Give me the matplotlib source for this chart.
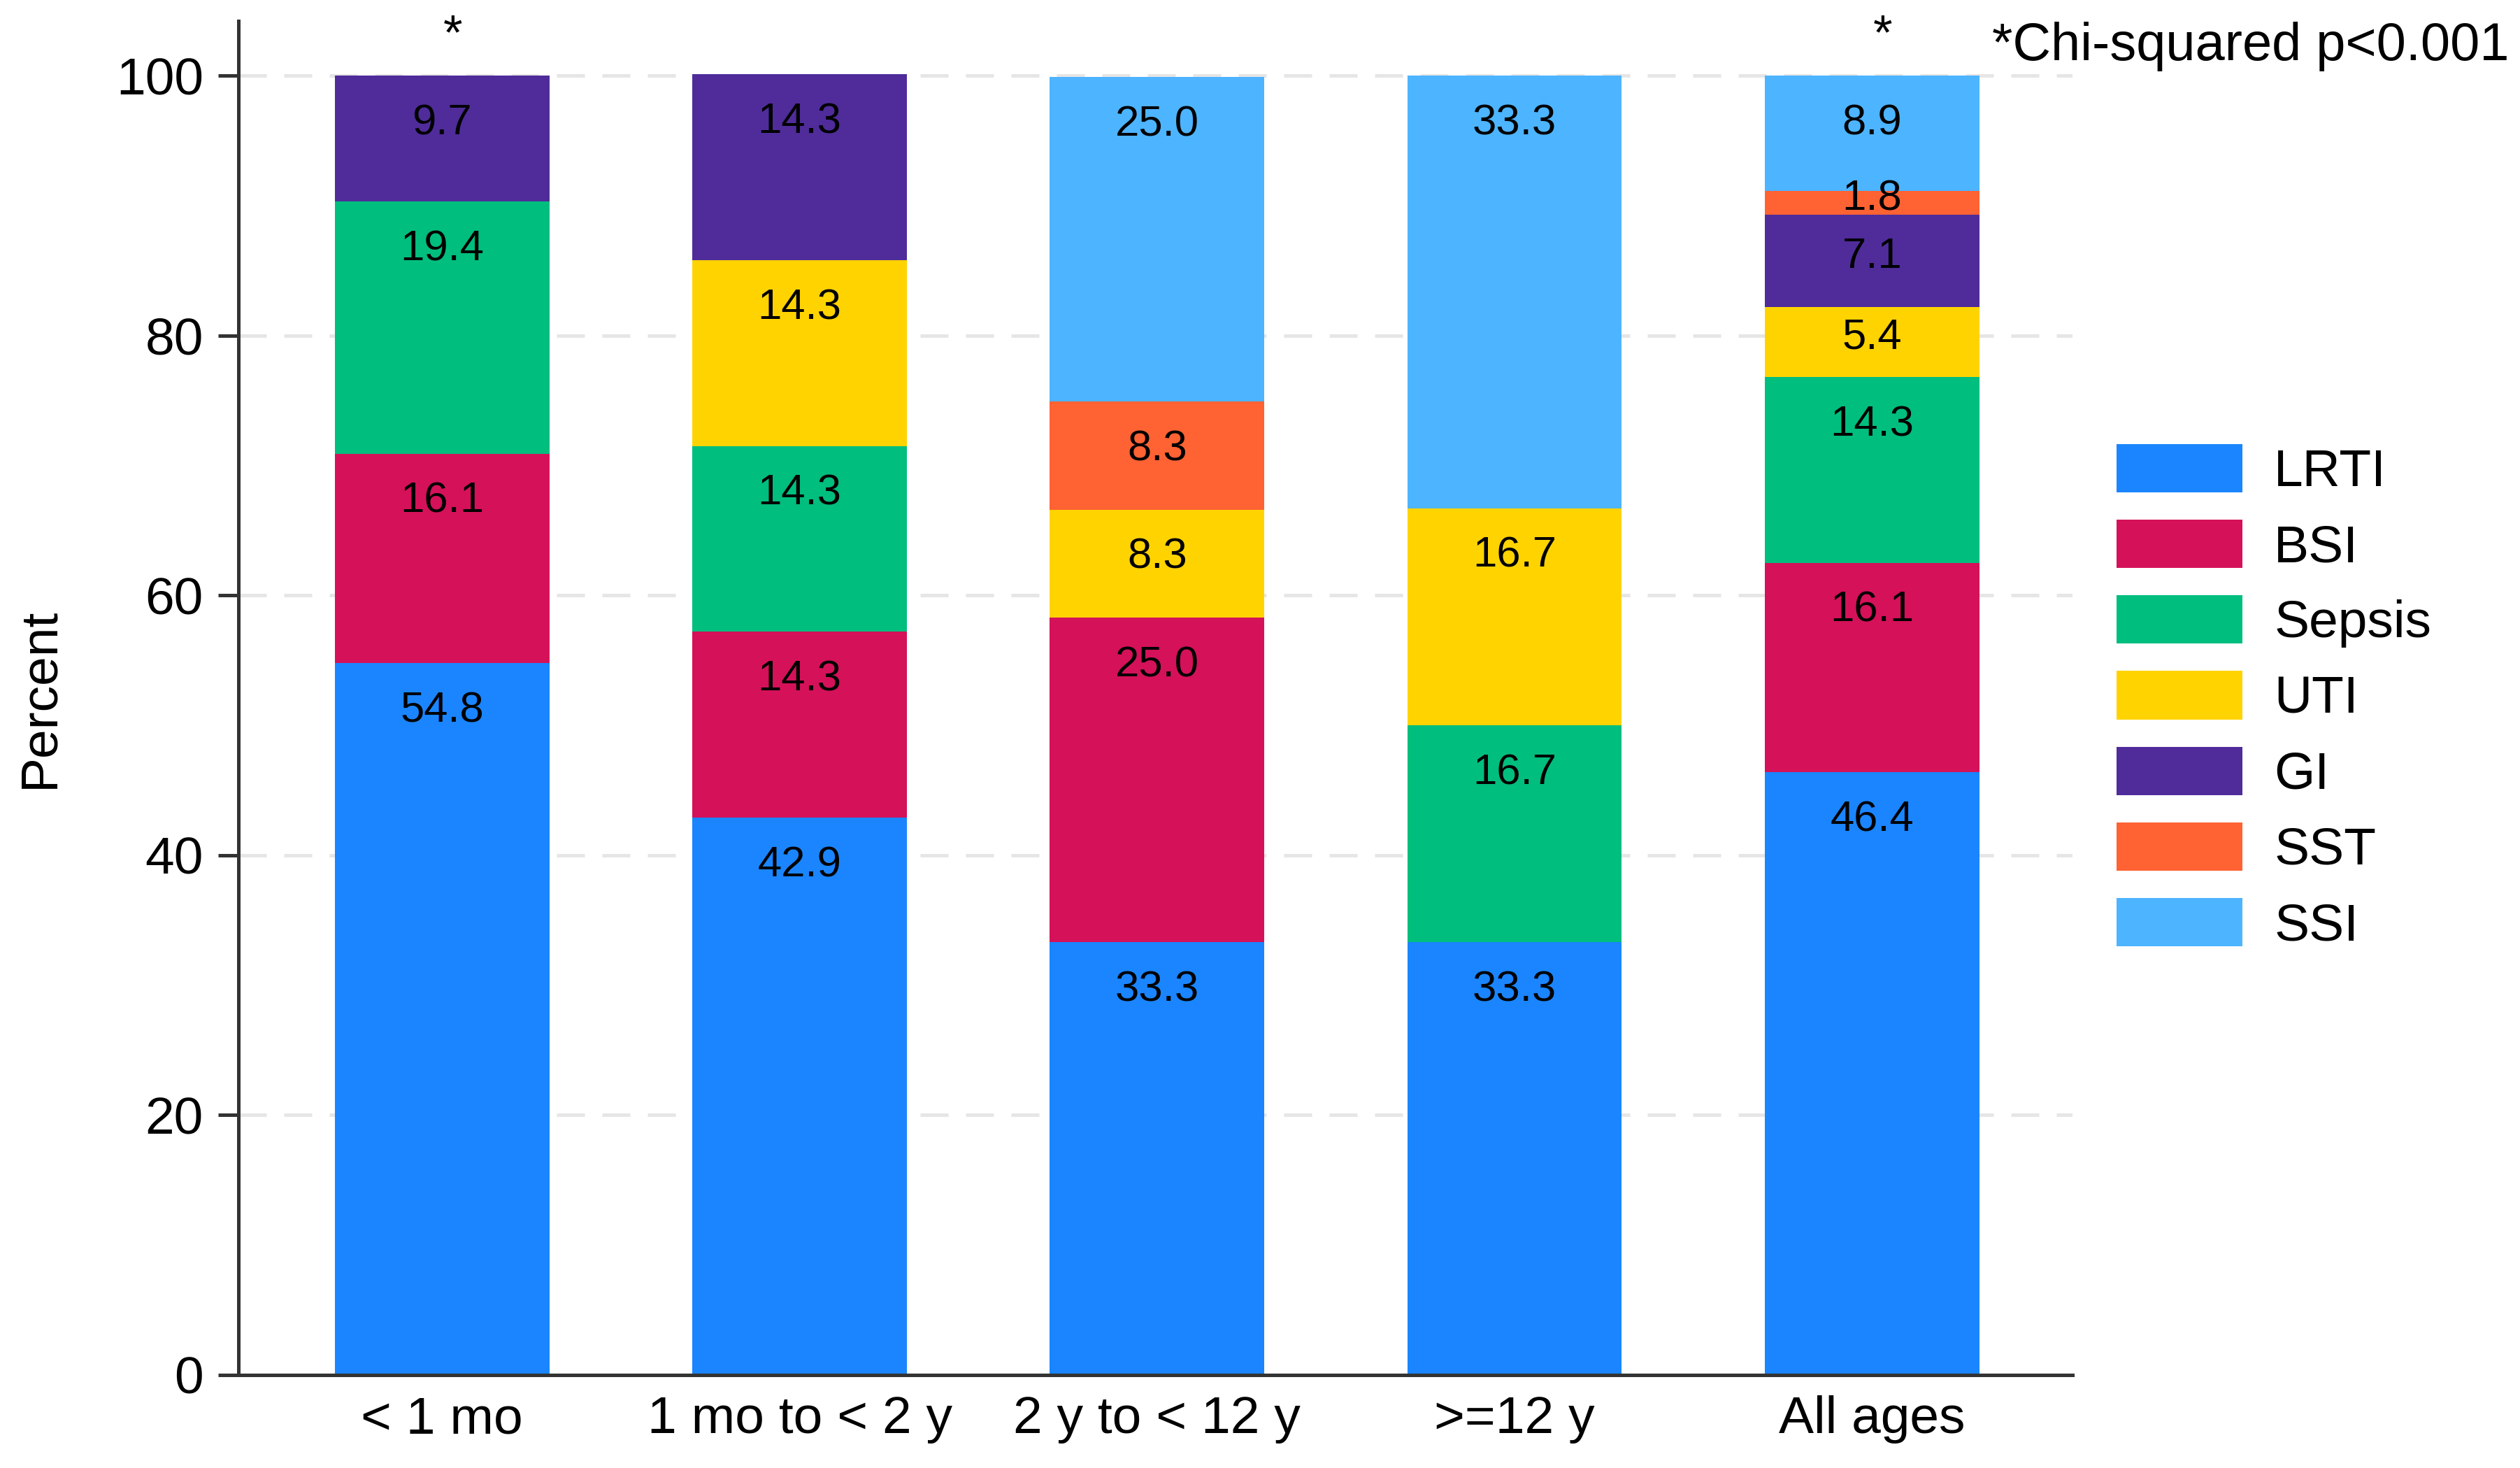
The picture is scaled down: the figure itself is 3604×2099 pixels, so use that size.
import numpy as np
import matplotlib
matplotlib.use("Agg")
import matplotlib.pyplot as plt
from matplotlib.patches import Patch

plt.rcParams['font.family'] = ['Liberation Sans', 'DejaVu Sans']

# age groups and infection types (percent of each age group)
groups = ["< 1 mo", "1 mo to < 2 y", "2 y to < 12 y", ">=12 y", "All ages"]
types = ["LRTI", "BSI", "Sepsis", "UTI", "GI", "SST", "SSI"]

lrti = [54.8, 42.9, 33.3, 33.3, 46.4]
bsi = [16.1, 14.3, 25.0, 0.0, 16.1]
sepsis = [19.4, 14.3, 0.0, 16.7, 14.3]
uti = [0.0, 14.3, 8.3, 16.7, 5.4]
gi = [9.7, 14.3, 0.0, 0.0, 7.1]
sst = [0.0, 0.0, 8.3, 0.0, 1.8]
ssi = [0.0, 0.0, 25.0, 33.3, 8.9]

sig_groups = ["< 1 mo", "All ages"]
yticks = [0, 20, 40, 60, 80, 100]

colors = ["#1a85ff", "#d41159", "#00be7d", "#ffd300",
          "#4f2c9a", "#ff6233", "#4db4ff"]

series = [lrti, bsi, sepsis, uti, gi, sst, ssi]

fig = plt.figure(figsize=(3604 / 300, 2099 / 300), dpi=300)
ax = fig.add_axes([0.0946, 0.0634, 0.7277, 0.9223])

x = np.arange(1, len(groups) + 1)
bottom = np.zeros(len(groups))
for vals, col in zip(series, colors):
    vals = np.array(vals)
    ax.bar(x, vals, width=0.6, bottom=bottom, color=col, linewidth=0, zorder=2)
    for xi, b, v in zip(x, bottom, vals):
        if v <= 0:
            continue
        top = b + v
        # labels sit just inside the top of each segment
        ylab = max(top - 3.7, b + v / 2 + 0.3)
        ax.text(xi, ylab, "{:.1f}".format(v), ha='center', va='center',
                fontsize=14.8, color='black', zorder=3)
    bottom = bottom + vals

for g in sig_groups:
    xi = x[groups.index(g)]
    ax.text(xi + 0.03, 103.0, "*", ha='center', va='center', fontsize=17,
            clip_on=False)

ax.set_xlim(0.43, 5.56)
ax.set_ylim(0, 104.2)
ax.set_xticks(x)
ax.set_xticklabels(groups, fontsize=18)
ax.set_yticks(yticks)
ax.set_yticklabels([str(t) for t in yticks], fontsize=18)
ax.tick_params(axis='x', length=0, pad=7)
ax.tick_params(axis='y', length=7, width=1.2, color='#333333', pad=5)
ax.set_ylabel("Percent", fontsize=18, labelpad=18)

for s in ['top', 'right']:
    ax.spines[s].set_visible(False)
for s in ['left', 'bottom']:
    ax.spines[s].set_color('#333333')
    ax.spines[s].set_linewidth(1.2)

ax.set_axisbelow(True)
ax.yaxis.grid(True, color='#e6e6e6', linewidth=1.2, linestyle=(0, (8, 5)))

handles = [Patch(facecolor=c, edgecolor='none', label=t)
           for t, c in zip(types, colors)]
fig.legend(handles=handles, loc='center left', bbox_to_anchor=(0.840, 0.525),
           frameon=False, fontsize=18, borderpad=0, borderaxespad=0,
           handlelength=2.4, handleheight=1.04, handletextpad=0.6,
           labelspacing=0.44)

fig.text(0.9956, 0.959, "*Chi-squared p<0.001", ha='right', va='baseline',
         fontsize=18.2)

plt.savefig("out.png", dpi=300)
plt.close()
